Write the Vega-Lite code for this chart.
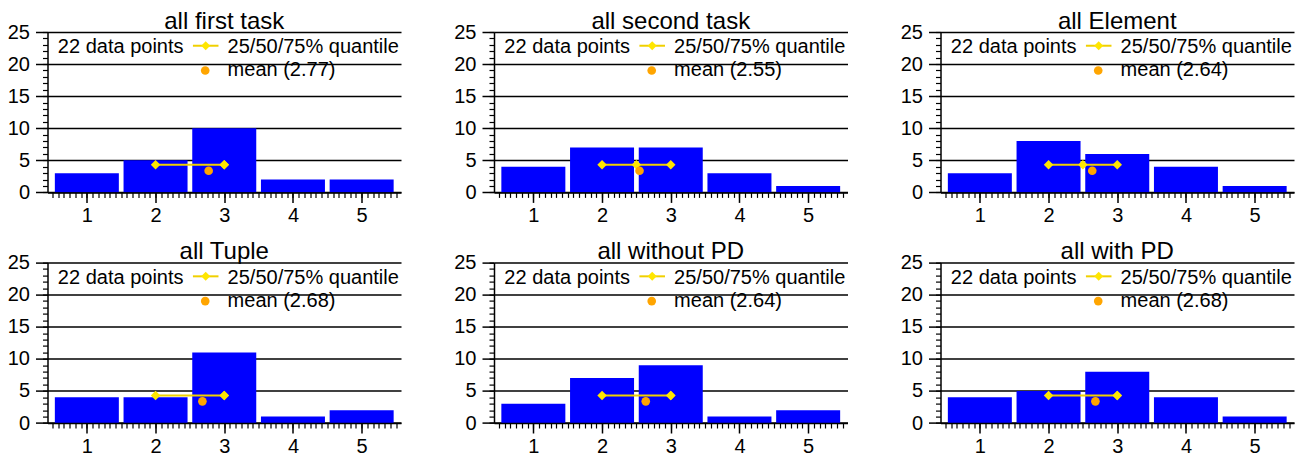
{
 "$schema": "https://vega.github.io/schema/vega-lite/v6.json",
 "padding": {"left": 6.5, "top": 9, "right": 5, "bottom": 0},
 "background": "white",
 "config": {
  "view": {"stroke": null},
  "font": "Liberation Sans",
  "axis": {"labelFont": "Liberation Sans", "labelFontSize": 20, "labelColor": "black", "domainColor": "black", "tickColor": "black"},
  "title": {"font": "Liberation Sans", "fontSize": 24, "fontWeight": "normal", "color": "black", "anchor": "middle", "frame": "group", "baseline": "alphabetic", "offset": -11.5},
  "text": {"font": "Liberation Sans"}
 },
 "data": {"values": [
  {"panel": "first", "kind": "bar", "rating": 1, "count": 3},
  {"panel": "first", "kind": "bar", "rating": 2, "count": 5},
  {"panel": "first", "kind": "bar", "rating": 3, "count": 10},
  {"panel": "first", "kind": "bar", "rating": 4, "count": 2},
  {"panel": "first", "kind": "bar", "rating": 5, "count": 2},
  {"panel": "first", "kind": "q", "q": 2},
  {"panel": "first", "kind": "q", "q": 3},
  {"panel": "first", "kind": "q", "q": 3},
  {"panel": "first", "kind": "stat", "mean": 2.773, "label": "mean (2.77)", "n": "22 data points"},
  {"panel": "second", "kind": "bar", "rating": 1, "count": 4},
  {"panel": "second", "kind": "bar", "rating": 2, "count": 7},
  {"panel": "second", "kind": "bar", "rating": 3, "count": 7},
  {"panel": "second", "kind": "bar", "rating": 4, "count": 3},
  {"panel": "second", "kind": "bar", "rating": 5, "count": 1},
  {"panel": "second", "kind": "q", "q": 2},
  {"panel": "second", "kind": "q", "q": 2.5},
  {"panel": "second", "kind": "q", "q": 3},
  {"panel": "second", "kind": "stat", "mean": 2.545, "label": "mean (2.55)", "n": "22 data points"},
  {"panel": "element", "kind": "bar", "rating": 1, "count": 3},
  {"panel": "element", "kind": "bar", "rating": 2, "count": 8},
  {"panel": "element", "kind": "bar", "rating": 3, "count": 6},
  {"panel": "element", "kind": "bar", "rating": 4, "count": 4},
  {"panel": "element", "kind": "bar", "rating": 5, "count": 1},
  {"panel": "element", "kind": "q", "q": 2},
  {"panel": "element", "kind": "q", "q": 2.5},
  {"panel": "element", "kind": "q", "q": 3},
  {"panel": "element", "kind": "stat", "mean": 2.636, "label": "mean (2.64)", "n": "22 data points"},
  {"panel": "tuple", "kind": "bar", "rating": 1, "count": 4},
  {"panel": "tuple", "kind": "bar", "rating": 2, "count": 4},
  {"panel": "tuple", "kind": "bar", "rating": 3, "count": 11},
  {"panel": "tuple", "kind": "bar", "rating": 4, "count": 1},
  {"panel": "tuple", "kind": "bar", "rating": 5, "count": 2},
  {"panel": "tuple", "kind": "q", "q": 2},
  {"panel": "tuple", "kind": "q", "q": 3},
  {"panel": "tuple", "kind": "q", "q": 3},
  {"panel": "tuple", "kind": "stat", "mean": 2.682, "label": "mean (2.68)", "n": "22 data points"},
  {"panel": "withoutpd", "kind": "bar", "rating": 1, "count": 3},
  {"panel": "withoutpd", "kind": "bar", "rating": 2, "count": 7},
  {"panel": "withoutpd", "kind": "bar", "rating": 3, "count": 9},
  {"panel": "withoutpd", "kind": "bar", "rating": 4, "count": 1},
  {"panel": "withoutpd", "kind": "bar", "rating": 5, "count": 2},
  {"panel": "withoutpd", "kind": "q", "q": 2},
  {"panel": "withoutpd", "kind": "q", "q": 3},
  {"panel": "withoutpd", "kind": "q", "q": 3},
  {"panel": "withoutpd", "kind": "stat", "mean": 2.636, "label": "mean (2.64)", "n": "22 data points"},
  {"panel": "withpd", "kind": "bar", "rating": 1, "count": 4},
  {"panel": "withpd", "kind": "bar", "rating": 2, "count": 5},
  {"panel": "withpd", "kind": "bar", "rating": 3, "count": 8},
  {"panel": "withpd", "kind": "bar", "rating": 4, "count": 4},
  {"panel": "withpd", "kind": "bar", "rating": 5, "count": 1},
  {"panel": "withpd", "kind": "q", "q": 2},
  {"panel": "withpd", "kind": "q", "q": 3},
  {"panel": "withpd", "kind": "q", "q": 3},
  {"panel": "withpd", "kind": "stat", "mean": 2.682, "label": "mean (2.68)", "n": "22 data points"}
 ]},
 "columns": 3,
 "spacing": {"row": 69.6, "column": 92.5},
 "bounds": "flush",
 "concat": [
  {
   "title": {"text": "all first task"}, "width": 353.5, "height": 160.4,
   "transform": [{"filter": "datum.panel === 'first'"}],
   "resolve": {"axis": {"x": "independent", "y": "independent"}},
   "layer": [
    {"transform": [{"filter": "datum.kind === 'bar'"}],
     "mark": {"type": "bar", "size": 64, "color": "#0000FF"},
     "encoding": {
      "x": {"field": "rating", "type": "quantitative", "scale": {"domain": [0.5, 5.5], "nice": false, "zero": false}, "axis": {"values": [1, 2, 3, 4, 5], "format": "d", "title": null, "tickSize": 10, "tickWidth": 1.5, "domainWidth": 1.5, "labelPadding": 3, "grid": false, "zindex": 1, "labelFlush": false}},
      "y": {"field": "count", "type": "quantitative", "scale": {"domain": [0, 25], "nice": false}, "axis": {"values": [0, 5, 10, 15, 20, 25], "format": "d", "title": null, "tickSize": 12, "tickWidth": 1.5, "domainWidth": 1.5, "labelPadding": 6, "grid": true, "gridColor": "black", "gridWidth": 1.5, "gridOpacity": 1}}
     }},
    {"transform": [{"filter": "datum.kind === 'bar'"}],
     "mark": {"type": "point", "opacity": 0},
     "encoding": {
      "x": {"field": "rating", "type": "quantitative", "scale": {"domain": [0.5, 5.5], "nice": false, "zero": false}, "axis": {"orient": "bottom", "values": [0.5,0.5833,0.6667,0.75,0.8333,0.9167,1,1.0833,1.1667,1.25,1.3333,1.4167,1.5,1.5833,1.6667,1.75,1.8333,1.9167,2,2.0833,2.1667,2.25,2.3333,2.4167,2.5,2.5833,2.6667,2.75,2.8333,2.9167,3,3.0833,3.1667,3.25,3.3333,3.4167,3.5,3.5833,3.6667,3.75,3.8333,3.9167,4,4.0833,4.1667,4.25,4.3333,4.4167,4.5,4.5833,4.6667,4.75,4.8333,4.9167,5,5.0833,5.1667,5.25,5.3333,5.4167,5.5], "labels": false, "domain": false, "grid": false, "tickSize": 5, "tickWidth": 1.2, "title": null}},
      "y": {"field": "count", "type": "quantitative", "scale": {"domain": [0, 25], "nice": false}, "axis": {"orient": "left", "values": [0,1,2,3,4,5,6,7,8,9,10,11,12,13,14,15,16,17,18,19,20,21,22,23,24,25], "labels": false, "domain": false, "grid": false, "tickSize": 5, "tickWidth": 1.2, "title": null}}
     }},
    {"transform": [{"filter": "datum.kind === 'q'"}],
     "mark": {"type": "line", "color": "#F0D000", "strokeWidth": 2, "point": {"shape": "diamond", "size": 90, "filled": true, "color": "#FFE600", "opacity": 1}},
     "encoding": {"x": {"field": "q", "type": "quantitative", "axis": null}, "y": {"datum": 4.3, "axis": null}}},
    {"transform": [{"filter": "datum.kind === 'stat'"}],
     "layer": [
      {"mark": {"type": "circle", "size": 75, "color": "#FFA500", "opacity": 1}, "encoding": {"x": {"field": "mean", "type": "quantitative", "axis": null}, "y": {"datum": 3.38, "axis": null}}},
      {"mark": {"type": "text", "align": "left", "baseline": "alphabetic", "fontSize": 20, "color": "black"}, "encoding": {"x": {"datum": 0.578, "axis": null}, "y": {"datum": 21.73, "axis": null}, "text": {"field": "n"}}},
      {"mark": {"type": "rule", "color": "#F0D000", "strokeWidth": 2}, "encoding": {"x": {"datum": 2.544, "axis": null}, "x2": {"datum": 2.916}, "y": {"datum": 22.86, "axis": null}}},
      {"mark": {"type": "point", "shape": "diamond", "size": 80, "filled": true, "color": "#FFE600", "opacity": 1}, "encoding": {"x": {"datum": 2.73, "axis": null}, "y": {"datum": 22.86, "axis": null}}},
      {"mark": {"type": "text", "align": "left", "baseline": "alphabetic", "fontSize": 20, "color": "black", "text": "25/50/75% quantile"}, "encoding": {"x": {"datum": 3.049, "axis": null}, "y": {"datum": 21.73, "axis": null}}},
      {"mark": {"type": "circle", "size": 75, "color": "#FFA500", "opacity": 1}, "encoding": {"x": {"datum": 2.723, "axis": null}, "y": {"datum": 19.0, "axis": null}}},
      {"mark": {"type": "text", "align": "left", "baseline": "alphabetic", "fontSize": 20, "color": "black"}, "encoding": {"x": {"datum": 3.049, "axis": null}, "y": {"datum": 18.07, "axis": null}, "text": {"field": "label"}}}
     ]}
   ]
  },
  {
   "title": {"text": "all second task"}, "width": 353.5, "height": 160.4,
   "transform": [{"filter": "datum.panel === 'second'"}],
   "resolve": {"axis": {"x": "independent", "y": "independent"}},
   "layer": [
    {"transform": [{"filter": "datum.kind === 'bar'"}],
     "mark": {"type": "bar", "size": 64, "color": "#0000FF"},
     "encoding": {
      "x": {"field": "rating", "type": "quantitative", "scale": {"domain": [0.5, 5.5], "nice": false, "zero": false}, "axis": {"values": [1, 2, 3, 4, 5], "format": "d", "title": null, "tickSize": 10, "tickWidth": 1.5, "domainWidth": 1.5, "labelPadding": 3, "grid": false, "zindex": 1, "labelFlush": false}},
      "y": {"field": "count", "type": "quantitative", "scale": {"domain": [0, 25], "nice": false}, "axis": {"values": [0, 5, 10, 15, 20, 25], "format": "d", "title": null, "tickSize": 12, "tickWidth": 1.5, "domainWidth": 1.5, "labelPadding": 6, "grid": true, "gridColor": "black", "gridWidth": 1.5, "gridOpacity": 1}}
     }},
    {"transform": [{"filter": "datum.kind === 'bar'"}],
     "mark": {"type": "point", "opacity": 0},
     "encoding": {
      "x": {"field": "rating", "type": "quantitative", "scale": {"domain": [0.5, 5.5], "nice": false, "zero": false}, "axis": {"orient": "bottom", "values": [0.5,0.5833,0.6667,0.75,0.8333,0.9167,1,1.0833,1.1667,1.25,1.3333,1.4167,1.5,1.5833,1.6667,1.75,1.8333,1.9167,2,2.0833,2.1667,2.25,2.3333,2.4167,2.5,2.5833,2.6667,2.75,2.8333,2.9167,3,3.0833,3.1667,3.25,3.3333,3.4167,3.5,3.5833,3.6667,3.75,3.8333,3.9167,4,4.0833,4.1667,4.25,4.3333,4.4167,4.5,4.5833,4.6667,4.75,4.8333,4.9167,5,5.0833,5.1667,5.25,5.3333,5.4167,5.5], "labels": false, "domain": false, "grid": false, "tickSize": 5, "tickWidth": 1.2, "title": null}},
      "y": {"field": "count", "type": "quantitative", "scale": {"domain": [0, 25], "nice": false}, "axis": {"orient": "left", "values": [0,1,2,3,4,5,6,7,8,9,10,11,12,13,14,15,16,17,18,19,20,21,22,23,24,25], "labels": false, "domain": false, "grid": false, "tickSize": 5, "tickWidth": 1.2, "title": null}}
     }},
    {"transform": [{"filter": "datum.kind === 'q'"}],
     "mark": {"type": "line", "color": "#F0D000", "strokeWidth": 2, "point": {"shape": "diamond", "size": 90, "filled": true, "color": "#FFE600", "opacity": 1}},
     "encoding": {"x": {"field": "q", "type": "quantitative", "axis": null}, "y": {"datum": 4.3, "axis": null}}},
    {"transform": [{"filter": "datum.kind === 'stat'"}],
     "layer": [
      {"mark": {"type": "circle", "size": 75, "color": "#FFA500", "opacity": 1}, "encoding": {"x": {"field": "mean", "type": "quantitative", "axis": null}, "y": {"datum": 3.38, "axis": null}}},
      {"mark": {"type": "text", "align": "left", "baseline": "alphabetic", "fontSize": 20, "color": "black"}, "encoding": {"x": {"datum": 0.578, "axis": null}, "y": {"datum": 21.73, "axis": null}, "text": {"field": "n"}}},
      {"mark": {"type": "rule", "color": "#F0D000", "strokeWidth": 2}, "encoding": {"x": {"datum": 2.544, "axis": null}, "x2": {"datum": 2.916}, "y": {"datum": 22.86, "axis": null}}},
      {"mark": {"type": "point", "shape": "diamond", "size": 80, "filled": true, "color": "#FFE600", "opacity": 1}, "encoding": {"x": {"datum": 2.73, "axis": null}, "y": {"datum": 22.86, "axis": null}}},
      {"mark": {"type": "text", "align": "left", "baseline": "alphabetic", "fontSize": 20, "color": "black", "text": "25/50/75% quantile"}, "encoding": {"x": {"datum": 3.049, "axis": null}, "y": {"datum": 21.73, "axis": null}}},
      {"mark": {"type": "circle", "size": 75, "color": "#FFA500", "opacity": 1}, "encoding": {"x": {"datum": 2.723, "axis": null}, "y": {"datum": 19.0, "axis": null}}},
      {"mark": {"type": "text", "align": "left", "baseline": "alphabetic", "fontSize": 20, "color": "black"}, "encoding": {"x": {"datum": 3.049, "axis": null}, "y": {"datum": 18.07, "axis": null}, "text": {"field": "label"}}}
     ]}
   ]
  },
  {
   "title": {"text": "all Element"}, "width": 353.5, "height": 160.4,
   "transform": [{"filter": "datum.panel === 'element'"}],
   "resolve": {"axis": {"x": "independent", "y": "independent"}},
   "layer": [
    {"transform": [{"filter": "datum.kind === 'bar'"}],
     "mark": {"type": "bar", "size": 64, "color": "#0000FF"},
     "encoding": {
      "x": {"field": "rating", "type": "quantitative", "scale": {"domain": [0.5, 5.5], "nice": false, "zero": false}, "axis": {"values": [1, 2, 3, 4, 5], "format": "d", "title": null, "tickSize": 10, "tickWidth": 1.5, "domainWidth": 1.5, "labelPadding": 3, "grid": false, "zindex": 1, "labelFlush": false}},
      "y": {"field": "count", "type": "quantitative", "scale": {"domain": [0, 25], "nice": false}, "axis": {"values": [0, 5, 10, 15, 20, 25], "format": "d", "title": null, "tickSize": 12, "tickWidth": 1.5, "domainWidth": 1.5, "labelPadding": 6, "grid": true, "gridColor": "black", "gridWidth": 1.5, "gridOpacity": 1}}
     }},
    {"transform": [{"filter": "datum.kind === 'bar'"}],
     "mark": {"type": "point", "opacity": 0},
     "encoding": {
      "x": {"field": "rating", "type": "quantitative", "scale": {"domain": [0.5, 5.5], "nice": false, "zero": false}, "axis": {"orient": "bottom", "values": [0.5,0.5833,0.6667,0.75,0.8333,0.9167,1,1.0833,1.1667,1.25,1.3333,1.4167,1.5,1.5833,1.6667,1.75,1.8333,1.9167,2,2.0833,2.1667,2.25,2.3333,2.4167,2.5,2.5833,2.6667,2.75,2.8333,2.9167,3,3.0833,3.1667,3.25,3.3333,3.4167,3.5,3.5833,3.6667,3.75,3.8333,3.9167,4,4.0833,4.1667,4.25,4.3333,4.4167,4.5,4.5833,4.6667,4.75,4.8333,4.9167,5,5.0833,5.1667,5.25,5.3333,5.4167,5.5], "labels": false, "domain": false, "grid": false, "tickSize": 5, "tickWidth": 1.2, "title": null}},
      "y": {"field": "count", "type": "quantitative", "scale": {"domain": [0, 25], "nice": false}, "axis": {"orient": "left", "values": [0,1,2,3,4,5,6,7,8,9,10,11,12,13,14,15,16,17,18,19,20,21,22,23,24,25], "labels": false, "domain": false, "grid": false, "tickSize": 5, "tickWidth": 1.2, "title": null}}
     }},
    {"transform": [{"filter": "datum.kind === 'q'"}],
     "mark": {"type": "line", "color": "#F0D000", "strokeWidth": 2, "point": {"shape": "diamond", "size": 90, "filled": true, "color": "#FFE600", "opacity": 1}},
     "encoding": {"x": {"field": "q", "type": "quantitative", "axis": null}, "y": {"datum": 4.3, "axis": null}}},
    {"transform": [{"filter": "datum.kind === 'stat'"}],
     "layer": [
      {"mark": {"type": "circle", "size": 75, "color": "#FFA500", "opacity": 1}, "encoding": {"x": {"field": "mean", "type": "quantitative", "axis": null}, "y": {"datum": 3.38, "axis": null}}},
      {"mark": {"type": "text", "align": "left", "baseline": "alphabetic", "fontSize": 20, "color": "black"}, "encoding": {"x": {"datum": 0.578, "axis": null}, "y": {"datum": 21.73, "axis": null}, "text": {"field": "n"}}},
      {"mark": {"type": "rule", "color": "#F0D000", "strokeWidth": 2}, "encoding": {"x": {"datum": 2.544, "axis": null}, "x2": {"datum": 2.916}, "y": {"datum": 22.86, "axis": null}}},
      {"mark": {"type": "point", "shape": "diamond", "size": 80, "filled": true, "color": "#FFE600", "opacity": 1}, "encoding": {"x": {"datum": 2.73, "axis": null}, "y": {"datum": 22.86, "axis": null}}},
      {"mark": {"type": "text", "align": "left", "baseline": "alphabetic", "fontSize": 20, "color": "black", "text": "25/50/75% quantile"}, "encoding": {"x": {"datum": 3.049, "axis": null}, "y": {"datum": 21.73, "axis": null}}},
      {"mark": {"type": "circle", "size": 75, "color": "#FFA500", "opacity": 1}, "encoding": {"x": {"datum": 2.723, "axis": null}, "y": {"datum": 19.0, "axis": null}}},
      {"mark": {"type": "text", "align": "left", "baseline": "alphabetic", "fontSize": 20, "color": "black"}, "encoding": {"x": {"datum": 3.049, "axis": null}, "y": {"datum": 18.07, "axis": null}, "text": {"field": "label"}}}
     ]}
   ]
  },
  {
   "title": {"text": "all Tuple"}, "width": 353.5, "height": 160.4,
   "transform": [{"filter": "datum.panel === 'tuple'"}],
   "resolve": {"axis": {"x": "independent", "y": "independent"}},
   "layer": [
    {"transform": [{"filter": "datum.kind === 'bar'"}],
     "mark": {"type": "bar", "size": 64, "color": "#0000FF"},
     "encoding": {
      "x": {"field": "rating", "type": "quantitative", "scale": {"domain": [0.5, 5.5], "nice": false, "zero": false}, "axis": {"values": [1, 2, 3, 4, 5], "format": "d", "title": null, "tickSize": 10, "tickWidth": 1.5, "domainWidth": 1.5, "labelPadding": 3, "grid": false, "zindex": 1, "labelFlush": false}},
      "y": {"field": "count", "type": "quantitative", "scale": {"domain": [0, 25], "nice": false}, "axis": {"values": [0, 5, 10, 15, 20, 25], "format": "d", "title": null, "tickSize": 12, "tickWidth": 1.5, "domainWidth": 1.5, "labelPadding": 6, "grid": true, "gridColor": "black", "gridWidth": 1.5, "gridOpacity": 1}}
     }},
    {"transform": [{"filter": "datum.kind === 'bar'"}],
     "mark": {"type": "point", "opacity": 0},
     "encoding": {
      "x": {"field": "rating", "type": "quantitative", "scale": {"domain": [0.5, 5.5], "nice": false, "zero": false}, "axis": {"orient": "bottom", "values": [0.5,0.5833,0.6667,0.75,0.8333,0.9167,1,1.0833,1.1667,1.25,1.3333,1.4167,1.5,1.5833,1.6667,1.75,1.8333,1.9167,2,2.0833,2.1667,2.25,2.3333,2.4167,2.5,2.5833,2.6667,2.75,2.8333,2.9167,3,3.0833,3.1667,3.25,3.3333,3.4167,3.5,3.5833,3.6667,3.75,3.8333,3.9167,4,4.0833,4.1667,4.25,4.3333,4.4167,4.5,4.5833,4.6667,4.75,4.8333,4.9167,5,5.0833,5.1667,5.25,5.3333,5.4167,5.5], "labels": false, "domain": false, "grid": false, "tickSize": 5, "tickWidth": 1.2, "title": null}},
      "y": {"field": "count", "type": "quantitative", "scale": {"domain": [0, 25], "nice": false}, "axis": {"orient": "left", "values": [0,1,2,3,4,5,6,7,8,9,10,11,12,13,14,15,16,17,18,19,20,21,22,23,24,25], "labels": false, "domain": false, "grid": false, "tickSize": 5, "tickWidth": 1.2, "title": null}}
     }},
    {"transform": [{"filter": "datum.kind === 'q'"}],
     "mark": {"type": "line", "color": "#F0D000", "strokeWidth": 2, "point": {"shape": "diamond", "size": 90, "filled": true, "color": "#FFE600", "opacity": 1}},
     "encoding": {"x": {"field": "q", "type": "quantitative", "axis": null}, "y": {"datum": 4.3, "axis": null}}},
    {"transform": [{"filter": "datum.kind === 'stat'"}],
     "layer": [
      {"mark": {"type": "circle", "size": 75, "color": "#FFA500", "opacity": 1}, "encoding": {"x": {"field": "mean", "type": "quantitative", "axis": null}, "y": {"datum": 3.38, "axis": null}}},
      {"mark": {"type": "text", "align": "left", "baseline": "alphabetic", "fontSize": 20, "color": "black"}, "encoding": {"x": {"datum": 0.578, "axis": null}, "y": {"datum": 21.73, "axis": null}, "text": {"field": "n"}}},
      {"mark": {"type": "rule", "color": "#F0D000", "strokeWidth": 2}, "encoding": {"x": {"datum": 2.544, "axis": null}, "x2": {"datum": 2.916}, "y": {"datum": 22.86, "axis": null}}},
      {"mark": {"type": "point", "shape": "diamond", "size": 80, "filled": true, "color": "#FFE600", "opacity": 1}, "encoding": {"x": {"datum": 2.73, "axis": null}, "y": {"datum": 22.86, "axis": null}}},
      {"mark": {"type": "text", "align": "left", "baseline": "alphabetic", "fontSize": 20, "color": "black", "text": "25/50/75% quantile"}, "encoding": {"x": {"datum": 3.049, "axis": null}, "y": {"datum": 21.73, "axis": null}}},
      {"mark": {"type": "circle", "size": 75, "color": "#FFA500", "opacity": 1}, "encoding": {"x": {"datum": 2.723, "axis": null}, "y": {"datum": 19.0, "axis": null}}},
      {"mark": {"type": "text", "align": "left", "baseline": "alphabetic", "fontSize": 20, "color": "black"}, "encoding": {"x": {"datum": 3.049, "axis": null}, "y": {"datum": 18.07, "axis": null}, "text": {"field": "label"}}}
     ]}
   ]
  },
  {
   "title": {"text": "all without PD"}, "width": 353.5, "height": 160.4,
   "transform": [{"filter": "datum.panel === 'withoutpd'"}],
   "resolve": {"axis": {"x": "independent", "y": "independent"}},
   "layer": [
    {"transform": [{"filter": "datum.kind === 'bar'"}],
     "mark": {"type": "bar", "size": 64, "color": "#0000FF"},
     "encoding": {
      "x": {"field": "rating", "type": "quantitative", "scale": {"domain": [0.5, 5.5], "nice": false, "zero": false}, "axis": {"values": [1, 2, 3, 4, 5], "format": "d", "title": null, "tickSize": 10, "tickWidth": 1.5, "domainWidth": 1.5, "labelPadding": 3, "grid": false, "zindex": 1, "labelFlush": false}},
      "y": {"field": "count", "type": "quantitative", "scale": {"domain": [0, 25], "nice": false}, "axis": {"values": [0, 5, 10, 15, 20, 25], "format": "d", "title": null, "tickSize": 12, "tickWidth": 1.5, "domainWidth": 1.5, "labelPadding": 6, "grid": true, "gridColor": "black", "gridWidth": 1.5, "gridOpacity": 1}}
     }},
    {"transform": [{"filter": "datum.kind === 'bar'"}],
     "mark": {"type": "point", "opacity": 0},
     "encoding": {
      "x": {"field": "rating", "type": "quantitative", "scale": {"domain": [0.5, 5.5], "nice": false, "zero": false}, "axis": {"orient": "bottom", "values": [0.5,0.5833,0.6667,0.75,0.8333,0.9167,1,1.0833,1.1667,1.25,1.3333,1.4167,1.5,1.5833,1.6667,1.75,1.8333,1.9167,2,2.0833,2.1667,2.25,2.3333,2.4167,2.5,2.5833,2.6667,2.75,2.8333,2.9167,3,3.0833,3.1667,3.25,3.3333,3.4167,3.5,3.5833,3.6667,3.75,3.8333,3.9167,4,4.0833,4.1667,4.25,4.3333,4.4167,4.5,4.5833,4.6667,4.75,4.8333,4.9167,5,5.0833,5.1667,5.25,5.3333,5.4167,5.5], "labels": false, "domain": false, "grid": false, "tickSize": 5, "tickWidth": 1.2, "title": null}},
      "y": {"field": "count", "type": "quantitative", "scale": {"domain": [0, 25], "nice": false}, "axis": {"orient": "left", "values": [0,1,2,3,4,5,6,7,8,9,10,11,12,13,14,15,16,17,18,19,20,21,22,23,24,25], "labels": false, "domain": false, "grid": false, "tickSize": 5, "tickWidth": 1.2, "title": null}}
     }},
    {"transform": [{"filter": "datum.kind === 'q'"}],
     "mark": {"type": "line", "color": "#F0D000", "strokeWidth": 2, "point": {"shape": "diamond", "size": 90, "filled": true, "color": "#FFE600", "opacity": 1}},
     "encoding": {"x": {"field": "q", "type": "quantitative", "axis": null}, "y": {"datum": 4.3, "axis": null}}},
    {"transform": [{"filter": "datum.kind === 'stat'"}],
     "layer": [
      {"mark": {"type": "circle", "size": 75, "color": "#FFA500", "opacity": 1}, "encoding": {"x": {"field": "mean", "type": "quantitative", "axis": null}, "y": {"datum": 3.38, "axis": null}}},
      {"mark": {"type": "text", "align": "left", "baseline": "alphabetic", "fontSize": 20, "color": "black"}, "encoding": {"x": {"datum": 0.578, "axis": null}, "y": {"datum": 21.73, "axis": null}, "text": {"field": "n"}}},
      {"mark": {"type": "rule", "color": "#F0D000", "strokeWidth": 2}, "encoding": {"x": {"datum": 2.544, "axis": null}, "x2": {"datum": 2.916}, "y": {"datum": 22.86, "axis": null}}},
      {"mark": {"type": "point", "shape": "diamond", "size": 80, "filled": true, "color": "#FFE600", "opacity": 1}, "encoding": {"x": {"datum": 2.73, "axis": null}, "y": {"datum": 22.86, "axis": null}}},
      {"mark": {"type": "text", "align": "left", "baseline": "alphabetic", "fontSize": 20, "color": "black", "text": "25/50/75% quantile"}, "encoding": {"x": {"datum": 3.049, "axis": null}, "y": {"datum": 21.73, "axis": null}}},
      {"mark": {"type": "circle", "size": 75, "color": "#FFA500", "opacity": 1}, "encoding": {"x": {"datum": 2.723, "axis": null}, "y": {"datum": 19.0, "axis": null}}},
      {"mark": {"type": "text", "align": "left", "baseline": "alphabetic", "fontSize": 20, "color": "black"}, "encoding": {"x": {"datum": 3.049, "axis": null}, "y": {"datum": 18.07, "axis": null}, "text": {"field": "label"}}}
     ]}
   ]
  },
  {
   "title": {"text": "all with PD"}, "width": 353.5, "height": 160.4,
   "transform": [{"filter": "datum.panel === 'withpd'"}],
   "resolve": {"axis": {"x": "independent", "y": "independent"}},
   "layer": [
    {"transform": [{"filter": "datum.kind === 'bar'"}],
     "mark": {"type": "bar", "size": 64, "color": "#0000FF"},
     "encoding": {
      "x": {"field": "rating", "type": "quantitative", "scale": {"domain": [0.5, 5.5], "nice": false, "zero": false}, "axis": {"values": [1, 2, 3, 4, 5], "format": "d", "title": null, "tickSize": 10, "tickWidth": 1.5, "domainWidth": 1.5, "labelPadding": 3, "grid": false, "zindex": 1, "labelFlush": false}},
      "y": {"field": "count", "type": "quantitative", "scale": {"domain": [0, 25], "nice": false}, "axis": {"values": [0, 5, 10, 15, 20, 25], "format": "d", "title": null, "tickSize": 12, "tickWidth": 1.5, "domainWidth": 1.5, "labelPadding": 6, "grid": true, "gridColor": "black", "gridWidth": 1.5, "gridOpacity": 1}}
     }},
    {"transform": [{"filter": "datum.kind === 'bar'"}],
     "mark": {"type": "point", "opacity": 0},
     "encoding": {
      "x": {"field": "rating", "type": "quantitative", "scale": {"domain": [0.5, 5.5], "nice": false, "zero": false}, "axis": {"orient": "bottom", "values": [0.5,0.5833,0.6667,0.75,0.8333,0.9167,1,1.0833,1.1667,1.25,1.3333,1.4167,1.5,1.5833,1.6667,1.75,1.8333,1.9167,2,2.0833,2.1667,2.25,2.3333,2.4167,2.5,2.5833,2.6667,2.75,2.8333,2.9167,3,3.0833,3.1667,3.25,3.3333,3.4167,3.5,3.5833,3.6667,3.75,3.8333,3.9167,4,4.0833,4.1667,4.25,4.3333,4.4167,4.5,4.5833,4.6667,4.75,4.8333,4.9167,5,5.0833,5.1667,5.25,5.3333,5.4167,5.5], "labels": false, "domain": false, "grid": false, "tickSize": 5, "tickWidth": 1.2, "title": null}},
      "y": {"field": "count", "type": "quantitative", "scale": {"domain": [0, 25], "nice": false}, "axis": {"orient": "left", "values": [0,1,2,3,4,5,6,7,8,9,10,11,12,13,14,15,16,17,18,19,20,21,22,23,24,25], "labels": false, "domain": false, "grid": false, "tickSize": 5, "tickWidth": 1.2, "title": null}}
     }},
    {"transform": [{"filter": "datum.kind === 'q'"}],
     "mark": {"type": "line", "color": "#F0D000", "strokeWidth": 2, "point": {"shape": "diamond", "size": 90, "filled": true, "color": "#FFE600", "opacity": 1}},
     "encoding": {"x": {"field": "q", "type": "quantitative", "axis": null}, "y": {"datum": 4.3, "axis": null}}},
    {"transform": [{"filter": "datum.kind === 'stat'"}],
     "layer": [
      {"mark": {"type": "circle", "size": 75, "color": "#FFA500", "opacity": 1}, "encoding": {"x": {"field": "mean", "type": "quantitative", "axis": null}, "y": {"datum": 3.38, "axis": null}}},
      {"mark": {"type": "text", "align": "left", "baseline": "alphabetic", "fontSize": 20, "color": "black"}, "encoding": {"x": {"datum": 0.578, "axis": null}, "y": {"datum": 21.73, "axis": null}, "text": {"field": "n"}}},
      {"mark": {"type": "rule", "color": "#F0D000", "strokeWidth": 2}, "encoding": {"x": {"datum": 2.544, "axis": null}, "x2": {"datum": 2.916}, "y": {"datum": 22.86, "axis": null}}},
      {"mark": {"type": "point", "shape": "diamond", "size": 80, "filled": true, "color": "#FFE600", "opacity": 1}, "encoding": {"x": {"datum": 2.73, "axis": null}, "y": {"datum": 22.86, "axis": null}}},
      {"mark": {"type": "text", "align": "left", "baseline": "alphabetic", "fontSize": 20, "color": "black", "text": "25/50/75% quantile"}, "encoding": {"x": {"datum": 3.049, "axis": null}, "y": {"datum": 21.73, "axis": null}}},
      {"mark": {"type": "circle", "size": 75, "color": "#FFA500", "opacity": 1}, "encoding": {"x": {"datum": 2.723, "axis": null}, "y": {"datum": 19.0, "axis": null}}},
      {"mark": {"type": "text", "align": "left", "baseline": "alphabetic", "fontSize": 20, "color": "black"}, "encoding": {"x": {"datum": 3.049, "axis": null}, "y": {"datum": 18.07, "axis": null}, "text": {"field": "label"}}}
     ]}
   ]
  }
 ]
}
